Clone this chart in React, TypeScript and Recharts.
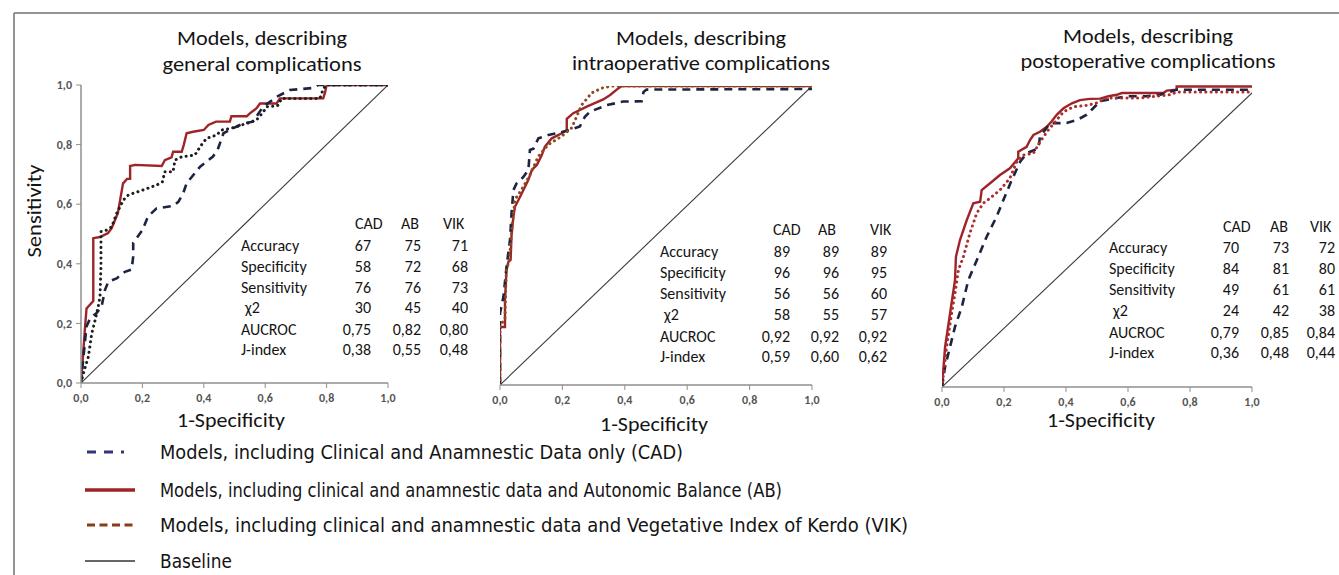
import React from 'react';
import { LineChart, Line, XAxis, YAxis } from 'recharts';

type P = [number, number][];

// ---------- data ----------
const AXIS_TICKS = [0, 0.2, 0.4, 0.6, 0.8, 1];
const BASELINE: P = [[0, 0], [1, 1]];

const GEN_CAD: P = [[0,0],[0.008,0.088],[0.018,0.19],[0.03,0.217],[0.05,0.234],[0.067,0.256],[0.078,0.312],[0.089,0.34],[0.116,0.351],[0.143,0.373],[0.165,0.381],[0.17,0.424],[0.17,0.47],[0.2,0.513],[0.218,0.558],[0.246,0.586],[0.3,0.594],[0.317,0.608],[0.333,0.637],[0.344,0.67],[0.388,0.726],[0.43,0.76],[0.447,0.788],[0.464,0.838],[0.496,0.855],[0.529,0.871],[0.56,0.877],[0.593,0.927],[0.637,0.96],[0.68,0.983],[0.757,0.99],[0.773,1.0],[1,1]];
const GEN_AB: P = [[0,0],[0.013,0.185],[0.018,0.25],[0.04,0.275],[0.04,0.486],[0.062,0.49],[0.088,0.503],[0.1,0.52],[0.12,0.57],[0.137,0.67],[0.15,0.685],[0.16,0.685],[0.16,0.728],[0.176,0.732],[0.263,0.728],[0.273,0.748],[0.295,0.757],[0.3,0.776],[0.328,0.776],[0.335,0.8],[0.344,0.838],[0.365,0.843],[0.4,0.849],[0.415,0.866],[0.44,0.877],[0.485,0.877],[0.49,0.895],[0.54,0.895],[0.55,0.905],[0.572,0.922],[0.583,0.938],[0.637,0.938],[0.648,0.955],[0.789,0.955],[0.795,0.975],[0.8,1.0],[1,1]];
const GEN_VIK: P = [[0,0],[0.008,0.033],[0.024,0.088],[0.035,0.166],[0.046,0.211],[0.056,0.256],[0.062,0.29],[0.065,0.39],[0.065,0.508],[0.084,0.513],[0.1,0.524],[0.116,0.569],[0.138,0.614],[0.154,0.631],[0.203,0.648],[0.246,0.664],[0.265,0.675],[0.273,0.709],[0.3,0.709],[0.306,0.748],[0.328,0.759],[0.371,0.765],[0.388,0.793],[0.409,0.821],[0.442,0.832],[0.458,0.849],[0.49,0.855],[0.54,0.871],[0.572,0.883],[0.594,0.91],[0.605,0.927],[0.64,0.93],[0.654,0.955],[0.778,0.955],[0.79,0.989],[0.8,1.0],[1,1]];

const INTRA_CAD: P = [[0,0],[0,0.24],[0.011,0.295],[0.021,0.396],[0.032,0.485],[0.037,0.574],[0.043,0.652],[0.053,0.674],[0.075,0.696],[0.091,0.72],[0.096,0.786],[0.107,0.79],[0.123,0.825],[0.155,0.836],[0.192,0.844],[0.224,0.853],[0.256,0.865],[0.272,0.897],[0.288,0.914],[0.342,0.936],[0.395,0.948],[0.454,0.949],[0.46,0.98],[0.47,0.988],[1,0.99]];
const INTRA_AB: P = [[0,0],[0,0.194],[0.016,0.194],[0.016,0.284],[0.021,0.385],[0.027,0.412],[0.034,0.418],[0.037,0.5],[0.043,0.563],[0.048,0.596],[0.064,0.629],[0.091,0.686],[0.102,0.719],[0.118,0.736],[0.134,0.769],[0.144,0.797],[0.166,0.825],[0.198,0.842],[0.214,0.853],[0.214,0.89],[0.235,0.909],[0.278,0.931],[0.331,0.955],[0.353,0.97],[0.379,0.992],[0.39,1.0],[1,1]];
const INTRA_VIK: P = [[0,0],[0,0.2],[0.016,0.22],[0.02,0.38],[0.03,0.42],[0.038,0.52],[0.048,0.62],[0.07,0.655],[0.095,0.7],[0.123,0.765],[0.155,0.804],[0.198,0.832],[0.23,0.86],[0.246,0.899],[0.262,0.937],[0.294,0.977],[0.326,0.993],[0.358,1.0],[1,1]];

const POST_CAD: P = [[0,0],[0.01,0.069],[0.026,0.137],[0.042,0.205],[0.064,0.273],[0.085,0.364],[0.117,0.443],[0.144,0.511],[0.176,0.579],[0.198,0.636],[0.225,0.704],[0.252,0.766],[0.273,0.795],[0.311,0.812],[0.316,0.851],[0.348,0.897],[0.402,0.898],[0.435,0.908],[0.467,0.926],[0.483,0.943],[0.51,0.972],[0.553,0.981],[0.596,0.989],[0.66,0.989],[0.703,0.994],[0.757,1.011],[1,1.011]];
const POST_AB: P = [[0,0],[0.01,0.137],[0.026,0.25],[0.042,0.364],[0.045,0.443],[0.058,0.5],[0.08,0.568],[0.101,0.625],[0.123,0.63],[0.128,0.67],[0.155,0.693],[0.187,0.721],[0.219,0.744],[0.246,0.778],[0.246,0.8],[0.273,0.817],[0.284,0.84],[0.295,0.857],[0.316,0.868],[0.338,0.885],[0.354,0.904],[0.37,0.926],[0.392,0.948],[0.419,0.965],[0.445,0.976],[0.477,0.98],[0.51,0.981],[0.537,0.989],[0.564,0.994],[0.58,1.0],[0.714,1.0],[0.725,1.008],[0.757,1.011],[0.757,1.022],[1,1.022]];
const POST_VIK: P = [[0,0],[0.015,0.137],[0.031,0.25],[0.042,0.318],[0.053,0.398],[0.069,0.443],[0.09,0.523],[0.112,0.591],[0.133,0.625],[0.155,0.642],[0.187,0.67],[0.219,0.71],[0.241,0.766],[0.262,0.789],[0.295,0.795],[0.316,0.834],[0.343,0.874],[0.365,0.902],[0.392,0.936],[0.424,0.953],[0.467,0.958],[0.499,0.966],[0.531,0.983],[0.639,0.983],[0.735,0.994],[0.757,1.003],[1,1.003]];

const ROW_LABELS = ['Accuracy', 'Specificity', 'Sensitivity', 'χ2', 'AUCROC', 'J-index'];
const MODEL_CODES = ['CAD', 'AB', 'VIK'];

const GEN_TABLE_CAD = ['67', '58', '76', '30', '0,75', '0,38'];
const GEN_TABLE_AB = ['75', '72', '76', '45', '0,82', '0,55'];
const GEN_TABLE_VIK = ['71', '68', '73', '40', '0,80', '0,48'];
const INTRA_TABLE_CAD = ['89', '96', '56', '58', '0,92', '0,59'];
const INTRA_TABLE_AB = ['89', '96', '56', '55', '0,92', '0,60'];
const INTRA_TABLE_VIK = ['89', '95', '60', '57', '0,92', '0,62'];
const POST_TABLE_CAD = ['70', '84', '49', '24', '0,79', '0,36'];
const POST_TABLE_AB = ['73', '81', '61', '42', '0,85', '0,48'];
const POST_TABLE_VIK = ['72', '80', '61', '38', '0,84', '0,44'];

const TITLES = [
  ['Models, describing', 'general complications'],
  ['Models, describing', 'intraoperative complications'],
  ['Models, describing', 'postoperative complications'],
];
const X_LABEL = '1-Specificity';
const Y_LABEL = 'Sensitivity';
const LEGEND_LABELS = [
  'Models, including Clinical and Anamnestic Data only (CAD)',
  'Models, including clinical and anamnestic data and Autonomic Balance  (AB)',
  'Models, including clinical and anamnestic data and  Vegetative Index of Kerdo (VIK)',
  'Baseline',
];

// ---------- styles ----------
const FONT = "Carlito, Lato, 'Open Sans', sans-serif";
const RED = '#9e2427';
const NAVY = '#1d2442';
const TXT = '#141414';
const AXIS = '#8f8f8f';

const toPts = (a: P) => a.map(([x, y]) => ({ x, y }));
const fmt = (v: number) => v.toFixed(1).replace('.', ',');

type PanelProps = {
  left: number; top: number; width: number; height: number;
  margin: { top: number; right: number; bottom: number; left: number };
  showY: boolean; yMax: number;
  cad: P; ab: P; vik: P; vikColor: string;
};

function RocPanel(p: PanelProps) {
  const tick = { fontSize: 12, fill: '#555', fontWeight: 700, fontFamily: FONT };
  return (
    <div style={{ position: 'absolute', left: p.left, top: p.top }}>
      <LineChart width={p.width} height={p.height} margin={p.margin}>
        <XAxis
          type="number" dataKey="x" domain={[0, 1]} ticks={AXIS_TICKS} tickFormatter={fmt}
          allowDataOverflow height={30} tickSize={5} tickMargin={5}
          axisLine={{ stroke: AXIS, strokeWidth: 1.5 }} tickLine={{ stroke: AXIS }} tick={tick}
        />
        <YAxis
          type="number" domain={[0, p.yMax]} ticks={AXIS_TICKS} tickFormatter={fmt}
          allowDataOverflow hide={!p.showY} width={40} tickSize={5} tickMargin={4}
          axisLine={{ stroke: AXIS, strokeWidth: 1.5 }} tickLine={{ stroke: AXIS }} tick={tick}
        />
        <Line data={toPts(BASELINE)} dataKey="y" type="linear" stroke="#3a3a3a" strokeWidth={1.1} dot={false} activeDot={false} isAnimationActive={false} />
        <Line data={toPts(p.ab)} dataKey="y" type="linear" stroke={RED} strokeWidth={2.4} dot={false} activeDot={false} isAnimationActive={false} />
        <Line data={toPts(p.cad)} dataKey="y" type="linear" stroke={NAVY} strokeWidth={2.6} strokeDasharray="8 6" dot={false} activeDot={false} isAnimationActive={false} />
        <Line data={toPts(p.vik)} dataKey="y" type="linear" stroke={p.vikColor} strokeWidth={3} strokeDasharray="0.1 5.2" strokeLinecap="round" dot={false} activeDot={false} isAnimationActive={false} />
      </LineChart>
    </div>
  );
}

type TableProps = {
  labelX: number; headerY: number; headerXs: number[]; valueRights: number[]; rowYs: number[];
  cols: string[][];
};

function StatTable(t: TableProps) {
  const st = { fontFamily: FONT, fontSize: 16, fill: TXT };
  return (
    <g>
      {MODEL_CODES.map((c, i) => (
        <text key={c} x={t.headerXs[i]} y={t.headerY} {...st}>{c}</text>
      ))}
      {ROW_LABELS.map((r, j) => (
        <text key={r} x={t.labelX + (r === 'χ2' ? 4 : 0)} y={t.rowYs[j]} {...st}>{r}</text>
      ))}
      {t.cols.map((col, i) =>
        col.map((v, j) => (
          <text key={i + '-' + j} x={t.valueRights[i]} y={t.rowYs[j]} textAnchor="end" {...st}>{v}</text>
        ))
      )}
    </g>
  );
}

export default function App() {
  const titleSt = { fontFamily: FONT, fontSize: 21, fill: TXT, textAnchor: 'middle' as const };
  const axSt = { fontFamily: FONT, fontSize: 20, fill: TXT, textAnchor: 'middle' as const };
  const legSt = { fontFamily: "'Liberation Sans Narrow', 'DejaVu Sans Condensed', Lato, sans-serif", fontSize: 19, fill: TXT };
  const titleCenters = [262, 701, 1148];
  const titleW2 = [199, 258, 255];
  const titleY = [[45, 71], [45, 70], [43, 68]];
  const xLabel = [[231, 427], [654, 431], [1101, 427]];
  const legY = [452, 490, 525, 561];
  const legW = [523, 622, 748, 72];

  return (
    <div style={{ position: 'fixed', left: 0, top: 0, width: 1339, height: 575, background: '#fff', overflow: 'hidden' }}>
      <RocPanel left={20} top={70} width={390} height={350} margin={{ top: 15, right: 22, bottom: 7, left: 21 }}
        showY yMax={1} cad={GEN_CAD} ab={GEN_AB} vik={GEN_VIK} vikColor="#1e1e1e" />
      <RocPanel left={480} top={70} width={350} height={350} margin={{ top: 16, right: 18, bottom: 5, left: 20 }}
        showY={false} yMax={1} cad={INTRA_CAD} ab={INTRA_AB} vik={INTRA_VIK} vikColor="#8e4a22" />
      <RocPanel left={922} top={60} width={350} height={360} margin={{ top: 21.24, right: 20, bottom: 3, left: 20 }}
        showY={false} yMax={1.04} cad={POST_CAD} ab={POST_AB} vik={POST_VIK} vikColor="#b02c2c" />

      <svg width={1339} height={575} style={{ position: 'absolute', left: 0, top: 0, pointerEvents: 'none' }}>
        <line x1={14} y1={13} x2={1339} y2={13} stroke="#707070" strokeWidth={1.5} />
        <line x1={14} y1={13} x2={14} y2={575} stroke="#707070" strokeWidth={1.5} />

        {TITLES.map((tl, i) => (
          <g key={i}>
            <text x={titleCenters[i]} y={titleY[i][0]} {...titleSt} textLength={170} lengthAdjust="spacingAndGlyphs">{tl[0]}</text>
            <text x={titleCenters[i]} y={titleY[i][1]} {...titleSt} textLength={titleW2[i]} lengthAdjust="spacingAndGlyphs">{tl[1]}</text>
          </g>
        ))}

        <text transform="translate(41,211) rotate(-90)" {...axSt} textLength={93} lengthAdjust="spacingAndGlyphs">{Y_LABEL}</text>
        {xLabel.map(([x, y], i) => (
          <text key={i} x={x} y={y} {...axSt} textLength={108} lengthAdjust="spacingAndGlyphs">{X_LABEL}</text>
        ))}

        <StatTable labelX={241} headerY={229} headerXs={[355, 401, 443]} valueRights={[371, 421, 468]}
          rowYs={[251, 272, 293, 313, 335, 355]} cols={[GEN_TABLE_CAD, GEN_TABLE_AB, GEN_TABLE_VIK]} />
        <StatTable labelX={660} headerY={235} headerXs={[773, 818, 870]} valueRights={[790, 839, 887]}
          rowYs={[257, 278, 299, 320, 342, 362]} cols={[INTRA_TABLE_CAD, INTRA_TABLE_AB, INTRA_TABLE_VIK]} />
        <StatTable labelX={1109} headerY={232} headerXs={[1223, 1270, 1310]} valueRights={[1239, 1289, 1335]}
          rowYs={[253, 274, 295, 316, 338, 358]} cols={[POST_TABLE_CAD, POST_TABLE_AB, POST_TABLE_VIK]} />

        <line x1={87} y1={legY[0]} x2={135} y2={legY[0]} stroke="#35357a" strokeWidth={3} strokeDasharray="9 8 9 8 3 20" />
        <line x1={85} y1={legY[1]} x2={135} y2={legY[1]} stroke={RED} strokeWidth={3.5} />
        <line x1={87} y1={legY[2]} x2={135} y2={legY[2]} stroke="#8b3a1a" strokeWidth={3} strokeDasharray="8 4.5" />
        <line x1={85} y1={legY[3]} x2={135} y2={legY[3]} stroke="#333" strokeWidth={1.5} />
        {LEGEND_LABELS.map((l, i) => (
          <text key={i} x={160} y={legY[i] + 7} {...legSt} textLength={legW[i]} lengthAdjust="spacingAndGlyphs">{l}</text>
        ))}
      </svg>
    </div>
  );
}
